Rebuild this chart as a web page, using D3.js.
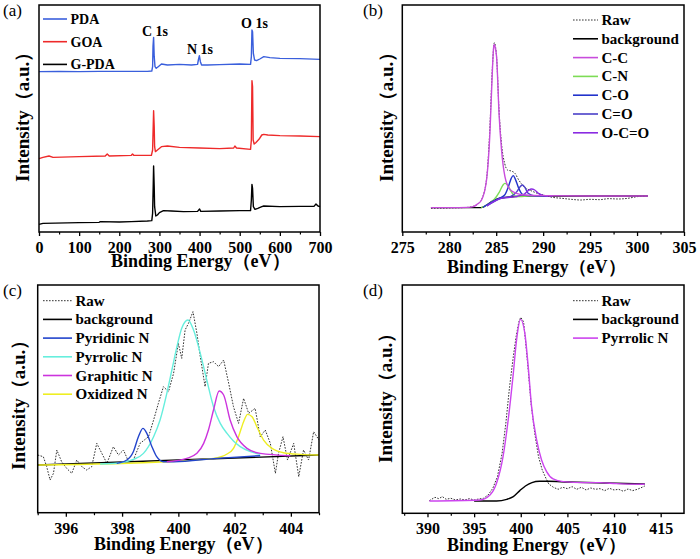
<!DOCTYPE html>
<html><head><meta charset="utf-8">
<script src="https://cdn.jsdelivr.net/npm/d3@7"></script>
<style>body{margin:0;background:#fff}</style>
</head><body>
<svg id="chart" width="700" height="559"></svg>
<script>
// ---------- Panel (a): XPS survey spectra  [binding energy (eV), intensity (a.u.)] ----------
const surveyPDA = [[0,481],[50,482],[100,481],[150,482],[200,482],[250,482],[270,482],[281,483],[283,496],[284,556],[285.5,584],[287,526],[289,496],[292,491],[297,496],[305,504],[320,501],[350,503],[380,501],[395,503],[397,516],[399.5,529],[402,511],[405,501],[420,501],[450,502],[500,504],[527,503],[529,526],[530.5,606],[532,601],[534,536],[537,516],[542,514],[550,519],[560,526],[575,523],[600,521],[650,520],[700,518]];
const surveyGOA = [[0,220],[10,224],[25,228],[35,224],[100,226],[165,228],[170,234],[175,228],[230,230],[233,234],[236,230],[280,230],[283,246],[284.5,316],[285.5,364],[287,316],[288,256],[290,241],[295,246],[305,256],[320,258],[350,254],[400,252],[450,250],[485,252],[488,258],[492,252],[527,248],[529,276],[530.5,454],[532,436],[533.5,276],[536,264],[540,268],[548,278],[555,291],[560,293],[570,291],[600,289],[650,288],[700,286]];
const surveyGPDA = [[0,23],[10,26],[100,28],[150,29],[152,31],[200,30],[230,31],[270,33],[281,34],[283,56],[284.5,136],[285.5,198],[287,136],[288,76],[291,48],[295,51],[300,58],[310,64],[330,63],[360,61],[395,62],[400,69],[403,62],[450,63],[500,64],[527,64],[529,96],[530.5,143],[532,131],[534,76],[538,68],[545,71],[555,76],[560,78],[600,76],[650,77],[685,77],[690,84],[695,78],[700,76]];
const surveyNames = ["PDA","GOA","G-PDA"];
const surveyPeaks = [["C 1s",285],["N 1s",400],["O 1s",532]];
const ticksA = [0,100,200,300,400,500,600,700];

// ---------- Panel (b): C 1s ----------
const c1sRaw = [[278.05,71],[280,72],[282,74],[283,83],[283.5,101],[284,166],[284.3,296],[284.6,496],[284.8,568],[285.05,521],[285.3,366],[285.6,256],[285.9,206],[286.2,186],[286.6,183],[287,176],[287.4,156],[287.8,141],[288.2,131],[288.7,124],[289.2,118],[290,111],[291,104],[292,101],[293,98],[294,96],[295,98],[296,97],[297,100],[298,99],[299,101],[300,106],[301,108]];
const c1sBackground = [[278.05,73],[283.4,73],[284,81],[284.5,91],[285,98],[286,104],[287,106],[288,108],[290,108],[301.17,108]];
const c1sCC = [[278.05,73],[280,73],[282,74],[282.56,76],[283,84],[283.44,96],[283.97,156],[284.33,296],[284.61,496],[284.72,552],[284.79,563],[284.88,556],[285.04,526],[285.32,346],[285.57,246],[285.93,166],[286.46,128],[287.17,116],[288,111],[290,109],[295,108],[301.17,108]];
const c1sCN = [[283.4,73],[284.2,84],[284.8,98],[285.3,118],[285.7,140],[285.93,146],[286.2,141],[286.6,121],[287,108],[287.5,106],[288.5,108],[290,108]];
const c1sCO = [[283.6,74],[284.5,90],[285.3,101],[285.9,111],[286.3,136],[286.6,161],[286.81,169],[287,161],[287.4,131],[287.8,113],[288.5,109],[290.5,108]];
const c1sCdO = [[284,78],[285.5,101],[286.5,106],[287.2,121],[287.5,134],[287.77,141],[288.05,134],[288.4,116],[289,109],[290.5,108]];
const c1sOCdO = [[284,78],[285.5,101],[287,106],[288,114],[288.4,124],[288.76,129],[289.1,126],[289.5,116],[290,110],[291,108]];
const c1sNames = ["Raw","background","C-C","C-N","C-O","C=O","O-C=O"];
const ticksB = [275,280,285,290,295,300,305];

// ---------- Panel (c): N 1s of G-PDA ----------
const n1sRawC = [[395.0,173],[395.2,168],[395.32,138],[395.44,98],[395.56,118],[395.68,188],[395.85,153],[396.03,133],[396.21,118],[396.39,158],[396.57,138],[396.74,128],[396.92,138],[397.1,208],[397.28,178],[397.46,148],[397.69,198],[397.87,173],[398.05,188],[398.23,153],[398.4,158],[398.64,208],[398.94,228],[399.12,278],[399.29,328],[399.47,378],[399.65,363],[399.83,418],[400.0,508],[400.12,463],[400.24,548],[400.36,568],[400.52,603],[400.66,538],[400.78,468],[400.95,378],[401.07,448],[401.25,453],[401.43,438],[401.61,458],[401.79,388],[401.96,318],[402.14,268],[402.32,343],[402.5,298],[402.73,313],[402.91,228],[403.09,248],[403.27,208],[403.45,118],[403.56,178],[403.72,228],[403.88,158],[404.1,208],[404.28,108],[404.45,188],[404.63,158],[404.81,243],[405.0,218]];
const n1sBackgroundC = [[395.0,143],[405.0,173]];
const n1sPyridinic = [[397.81,148],[398.17,158],[398.4,183],[398.58,228],[398.74,253],[398.88,238],[399.06,198],[399.23,168],[399.47,153],[399.83,153],[401.37,163],[402.91,171]];
const n1sPyrrolicC = [[397.22,146],[397.93,150],[398.4,160],[398.76,178],[399.12,228],[399.35,278],[399.59,358],[399.77,428],[399.95,498],[400.12,553],[400.34,578],[400.54,548],[400.78,478],[401.01,398],[401.25,318],[401.49,268],[401.73,238],[401.96,215],[402.2,198],[402.56,183],[402.91,175]];
const n1sGraphitic = [[399.59,153],[400.3,163],[400.66,178],[400.9,208],[401.07,248],[401.25,308],[401.45,365],[401.61,353],[401.84,278],[402.08,228],[402.44,193],[402.91,178],[403.98,171]];
const n1sOxidized = [[395.02,143],[399.59,153],[401.25,163],[401.73,176],[401.96,193],[402.14,228],[402.32,273],[402.46,295],[402.62,288],[402.79,258],[403.03,218],[403.33,193],[403.74,180],[404.34,175],[405.0,173]];
const n1sNamesC = ["Raw","background","Pyridinic N","Pyrrolic N","Graphitic N","Oxidized N"];
const ticksC = [396,398,400,402,404];

// ---------- Panel (d): N 1s of PDA ----------
const n1sRawD = [[390.2,38],[390.8,48],[391.2,44],[391.6,50],[392,42],[392.5,45],[393,40],[393.5,43],[394,40],[394.5,44],[395,40],[395.5,43],[396,45],[396.5,55],[397,75],[397.5,110],[398,180],[398.4,270],[398.8,380],[399.2,470],[399.5,530],[399.8,575],[400,588],[400.3,575],[400.5,520],[400.8,430],[401.1,330],[401.5,240],[401.9,170],[402.3,130],[402.7,105],[403,88],[403.5,78],[404,72],[404.5,78],[405,74],[405.5,80],[406,72],[406.5,78],[407,70],[407.5,76],[408,72],[408.5,74],[409,68],[409.5,75],[410,70],[410.5,72],[411,66],[411.5,73],[412,68],[412.5,72],[413,78],[413.3,82]];
const n1sBackgroundD = [[395,37],[397.4,37],[398.5,42],[399.2,50],[399.9,68],[400.5,82],[401.2,92],[402,96],[403,96],[405,94],[413.3,88]];
const n1sPyrrolicD = [[390.2,37],[395.6,40],[396.7,55],[397.4,90],[398.1,170],[398.65,280],[399.2,420],[399.55,520],[399.98,582],[400.44,540],[400.8,440],[401.16,320],[401.7,220],[402.23,160],[402.77,125],[403.47,103],[404.55,95],[406.69,92],[408.48,92],[410.26,89],[413.3,87]];
const n1sNamesD = ["Raw","background","Pyrrolic N"];
const ticksD = [390,395,400,405,410,415];

// ---------- drawing ----------
const svg = d3.select('#chart');
const FONT = '"Liberation Serif","Times New Roman",Times,serif';
const RAW = {color:'#333', width:1, dash:'1.6,1.4'};

function drawPanel(p) {
  const g = svg.append('g');
  const x = d3.scaleLinear().domain(p.xDomain).range([p.left, p.right]);
  const y = d3.scaleLinear().domain(p.yDomain).range([p.bottom, p.top]);
  const line = d3.line().x(d => x(d[0])).y(d => y(d[1]));
  p.series.forEach(s => {
    g.append('path').datum(s.data)
      .attr('fill','none').attr('stroke', s.color)
      .attr('stroke-width', s.width || 1.4)
      .attr('stroke-dasharray', s.dash || null)
      .attr('stroke-linejoin','round')
      .attr('d', line.curve(s.curve || d3.curveMonotoneX));
  });
  g.append('rect').attr('x',p.left).attr('y',p.top)
    .attr('width',p.right-p.left).attr('height',p.bottom-p.top)
    .attr('fill','none').attr('stroke','#000').attr('stroke-width',1.5);
  const ax = g.append('g').attr('transform',`translate(0,${p.bottom})`)
    .call(d3.axisBottom(x).tickValues(p.major).tickSize(4).tickFormat(d3.format('d')));
  ax.select('.domain').remove();
  ax.selectAll('line').attr('stroke','#000').attr('stroke-width',1.3);
  ax.selectAll('text').attr('y',21).attr('dy',null).attr('fill','#000')
    .style('font-family',FONT).style('font-weight','bold').style('font-size','16px');
  const mn = g.append('g').attr('transform',`translate(0,${p.bottom})`)
    .call(d3.axisBottom(x).tickValues(p.minor).tickSize(2.5).tickFormat(''));
  mn.select('.domain').remove();
  mn.selectAll('line').attr('stroke','#000').attr('stroke-width',1.2);
  // axis titles
  g.append('text').attr('x',p.xTitleX).attr('y',p.xTitleY)
    .style('font-family',FONT).style('font-weight','bold').style('font-size','18px')
    .text('Binding Energy（eV）');
  g.append('text').attr('transform',`translate(${p.yTitleX},${p.yTitleY}) rotate(-90)`)
    .style('font-family',FONT).style('font-weight','bold').style('font-size','19px')
    .text('Intensity（a.u.）');
  g.append('text').attr('x',p.labelX).attr('y',p.labelY)
    .style('font-family',FONT).style('font-size','17px').text(p.label);
  // legend
  p.legend.forEach((it, i) => {
    const yy = p.legY0 + i * p.legStep;
    g.append('line').attr('x1',p.legX1).attr('x2',p.legX2).attr('y1',yy).attr('y2',yy)
      .attr('stroke',it.color).attr('stroke-width',it.dash?1:1.6).attr('stroke-dasharray',it.dash||null);
    g.append('text').attr('x',p.legX2+3.5).attr('y',yy+5)
      .style('font-family',FONT).style('font-weight','bold').style('font-size',p.legFont+'px')
      .text(it.name);
  });
  return {g, x, y};
}

// Panel (a)
const colA = ['#3a5fdc','#ee2a2a','#000'];
const pa = drawPanel({
  xDomain:[0,700], yDomain:[0,681], left:39, right:320, top:5, bottom:232,
  major:ticksA, minor:d3.range(50,700,100),
  series:[{data:surveyGPDA,color:colA[2],curve:d3.curveLinear},{data:surveyGOA,color:colA[1],curve:d3.curveLinear},{data:surveyPDA,color:colA[0],curve:d3.curveLinear}],
  xTitleX:111, xTitleY:267, yTitleX:29, yTitleY:182, label:'(a)', labelX:3, labelY:16,
  legend: surveyNames.map((n,i)=>({name:n,color:colA[i]})),
  legX1:43, legX2:67, legY0:19, legStep:22.7, legFont:14
});
const peakLabelPos = [[142,36],[187,54],[241,28]];
surveyPeaks.forEach((pk,i) => {
  pa.g.append('text').attr('x',peakLabelPos[i][0]).attr('y',peakLabelPos[i][1])
    .style('font-family',FONT).style('font-weight','bold').style('font-size','14px').text(pk[0]);
});

// Panel (b)
const colB = ['#333','#000','#c84cdc','#7ddc55','#2233cc','#4a40c8','#8a2be2'];
drawPanel({
  xDomain:[275,305], yDomain:[0,681], left:402.3, right:684, top:5, bottom:232,
  major:ticksB, minor:d3.range(277.5,305,5),
  series:[{data:c1sRaw,...RAW},{data:c1sBackground,color:colB[1]},{data:c1sCN,color:colB[3]},{data:c1sCO,color:colB[4]},{data:c1sCdO,color:colB[5]},{data:c1sOCdO,color:colB[6]},{data:c1sCC,color:colB[2]}],
  xTitleX:447, xTitleY:273, yTitleX:393, yTitleY:182, label:'(b)', labelX:363, labelY:16,
  legend: c1sNames.map((n,i)=>({name:n,color:colB[i],dash:i===0?RAW.dash:null})),
  legX1:573, legX2:598, legY0:20, legStep:18.8, legFont:15
});

// Panel (c)
const colC = ['#333','#000','#2244cc','#66eedd','#cc33dd','#eeee22'];
drawPanel({
  xDomain:[395,405], yDomain:[0,683], left:37.7, right:319, top:285, bottom:512.7,
  major:ticksC, minor:d3.range(395,406,1).filter(v=>v%2===1),
  series:[{data:n1sRawC,...RAW,curve:d3.curveLinear},{data:n1sBackgroundC,color:colC[1],curve:d3.curveLinear},{data:n1sOxidized,color:colC[5]},{data:n1sPyrrolicC,color:colC[3]},{data:n1sPyridinic,color:colC[2]},{data:n1sGraphitic,color:colC[4]}],
  xTitleX:94, xTitleY:550, yTitleX:25, yTitleY:470, label:'(c)', labelX:3, labelY:296,
  legend: n1sNamesC.map((n,i)=>({name:n,color:colC[i],dash:i===0?RAW.dash:null})),
  legX1:43, legX2:72, legY0:300.7, legStep:18.7, legFont:15
});

// Panel (d)
const colD = ['#333','#000','#cc44ee'];
drawPanel({
  xDomain:[387.3,417.5], yDomain:[0,685], left:402.3, right:684, top:285, bottom:513.3,
  major:ticksD, minor:d3.range(387.5,417.5,5),
  series:[{data:n1sRawD,...RAW,curve:d3.curveLinear},{data:n1sBackgroundD,color:colD[1]},{data:n1sPyrrolicD,color:colD[2]}],
  xTitleX:447, xTitleY:551, yTitleX:392, yTitleY:463, label:'(d)', labelX:363, labelY:296,
  legend: n1sNamesD.map((n,i)=>({name:n,color:colD[i],dash:i===0?RAW.dash:null})),
  legX1:573, legX2:598, legY0:300.7, legStep:18.7, legFont:15
});
</script>
</body></html>
